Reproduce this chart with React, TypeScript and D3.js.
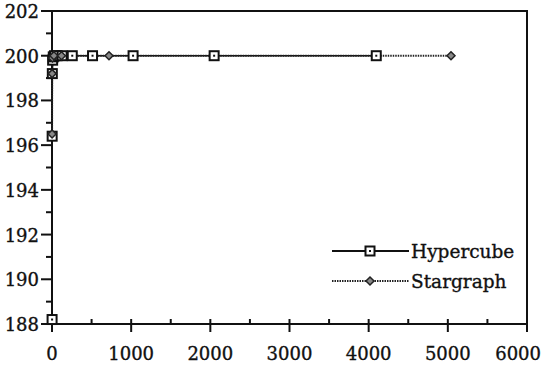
import React, { useRef, useEffect } from "react";
import * as d3 from "d3";

// Hypercube: nodes are powers of two
const hyperX = [1, 2, 4, 8, 16, 32, 64, 128, 256, 512, 1024, 2048, 4096];
const hyperY = [188.2, 196.4, 199.2, 199.8, 199.95, 200, 200, 200, 200, 200, 200, 200, 200];

// Stargraph: nodes are factorials
const starX = [1, 2, 6, 24, 120, 720, 5040];
const starY = [196.5, 199.2, 199.9, 200, 200, 200, 200];

const xTicks = [0, 1000, 2000, 3000, 4000, 5000, 6000];
const yTicks = [188, 190, 192, 194, 196, 198, 200, 202];

const FONT = "DejaVu Serif";

export default function App() {
  const ref = useRef<SVGSVGElement>(null);

  useEffect(() => {
    const width = 541;
    const height = 365;
    const svg = d3.select(ref.current);
    svg.selectAll("*").remove();
    svg.attr("width", width).attr("height", height);

    const x = d3.scaleLinear().domain([0, 6000]).range([52, 527]);
    const y = d3.scaleLinear().domain([188, 202]).range([324, 11]);

    svg.append("rect").attr("width", width).attr("height", height).attr("fill", "#fff");

    // frame
    svg
      .append("rect")
      .attr("x", x(0))
      .attr("y", y(202))
      .attr("width", x(6000) - x(0))
      .attr("height", y(188) - y(202))
      .attr("fill", "none")
      .attr("stroke", "#111")
      .attr("stroke-width", 2);

    // y ticks (major + minor)
    d3.range(188, 203, 1).forEach((v) => {
      const major = v % 2 === 0;
      svg
        .append("line")
        .attr("x1", x(0) - (major ? 11 : 6))
        .attr("x2", x(0))
        .attr("y1", y(v))
        .attr("y2", y(v))
        .attr("stroke", "#111")
        .attr("stroke-width", 2);
    });

    const txt = (sel: any) =>
      sel
        .attr("font-family", FONT)
        .attr("font-size", 18)
        .attr("fill", "#111")
        .attr("stroke", "#111")
        .attr("stroke-width", 0.35);

    svg
      .selectAll(".ylab")
      .data(yTicks)
      .enter()
      .append("text")
      .attr("x", x(0) - 13)
      .attr("y", (d) => y(d) + 7)
      .attr("text-anchor", "end")
      .call(txt)
      .text((d) => d);

    // x ticks (major + minor)
    d3.range(0, 6001, 500).forEach((v) => {
      const major = v % 1000 === 0;
      svg
        .append("line")
        .attr("x1", x(v))
        .attr("x2", x(v))
        .attr("y1", y(188) - 5)
        .attr("y2", y(188) + (major ? 8 : 0))
        .attr("stroke", "#111")
        .attr("stroke-width", 2);
    });
    svg
      .selectAll(".xlab")
      .data(xTicks)
      .enter()
      .append("text")
      .attr("x", (d) => (d === 6000 ? width : x(d)))
      .attr("y", 360)
      .attr("text-anchor", (d) => (d === 6000 ? "end" : "middle"))
      .call(txt)
      .text((d) => d);

    const line = d3
      .line<[number, number]>()
      .x((d) => x(d[0]))
      .y((d) => y(d[1]));

    const hyper: [number, number][] = hyperX.map((v, i) => [v, hyperY[i]]);
    const star: [number, number][] = starX.map((v, i) => [v, starY[i]]);

    const drawSquare = (g: any, cx: number, cy: number) => {
      g.append("rect")
        .attr("x", cx - 4.5)
        .attr("y", cy - 4.5)
        .attr("width", 9)
        .attr("height", 9)
        .attr("fill", "#fff")
        .attr("stroke", "#111")
        .attr("stroke-width", 2);
      g.append("rect")
        .attr("x", cx - 1)
        .attr("y", cy - 1)
        .attr("width", 2)
        .attr("height", 2)
        .attr("fill", "#111");
    };
    const drawDiamond = (g: any, cx: number, cy: number) => {
      g.append("path")
        .attr("d", `M${cx},${cy - 4}L${cx + 4},${cy}L${cx},${cy + 4}L${cx - 4},${cy}Z`)
        .attr("fill", "#888")
        .attr("stroke", "#222")
        .attr("stroke-width", 1.5);
    };

    // Hypercube line
    svg
      .append("path")
      .attr("d", line(hyper))
      .attr("fill", "none")
      .attr("stroke", "#111")
      .attr("stroke-width", 1.5);

    // Stargraph line
    svg
      .append("path")
      .attr("d", line(star))
      .attr("fill", "none")
      .attr("stroke", "#222")
      .attr("stroke-width", 2)
      .attr("stroke-dasharray", "1.5,1");

    const marks = svg.append("g");
    hyper.forEach((d) => drawSquare(marks, x(d[0]), y(d[1])));
    star.forEach((d) => drawDiamond(marks, x(d[0]), y(d[1])));

    // legend
    const lg = svg.append("g");
    lg.append("line")
      .attr("x1", 332)
      .attr("x2", 409)
      .attr("y1", 251)
      .attr("y2", 251)
      .attr("stroke", "#111")
      .attr("stroke-width", 2);
    drawSquare(lg, 370, 251);
    lg.append("text")
      .attr("x", 411)
      .attr("y", 258)
      .call(txt)
      .attr("font-size", 18.5)
      .text("Hypercube");

    lg.append("line")
      .attr("x1", 332)
      .attr("x2", 409)
      .attr("y1", 281)
      .attr("y2", 281)
      .attr("stroke", "#222")
      .attr("stroke-width", 2)
      .attr("stroke-dasharray", "1.5,1");
    drawDiamond(lg, 370, 281);
    lg.append("text")
      .attr("x", 411)
      .attr("y", 288)
      .call(txt)
      .attr("font-size", 18.5)
      .text("Stargraph");
  }, []);

  return (
    <svg
      ref={ref}
      style={{ position: "absolute", left: 0, top: 0, display: "block" }}
    ></svg>
  );
}
